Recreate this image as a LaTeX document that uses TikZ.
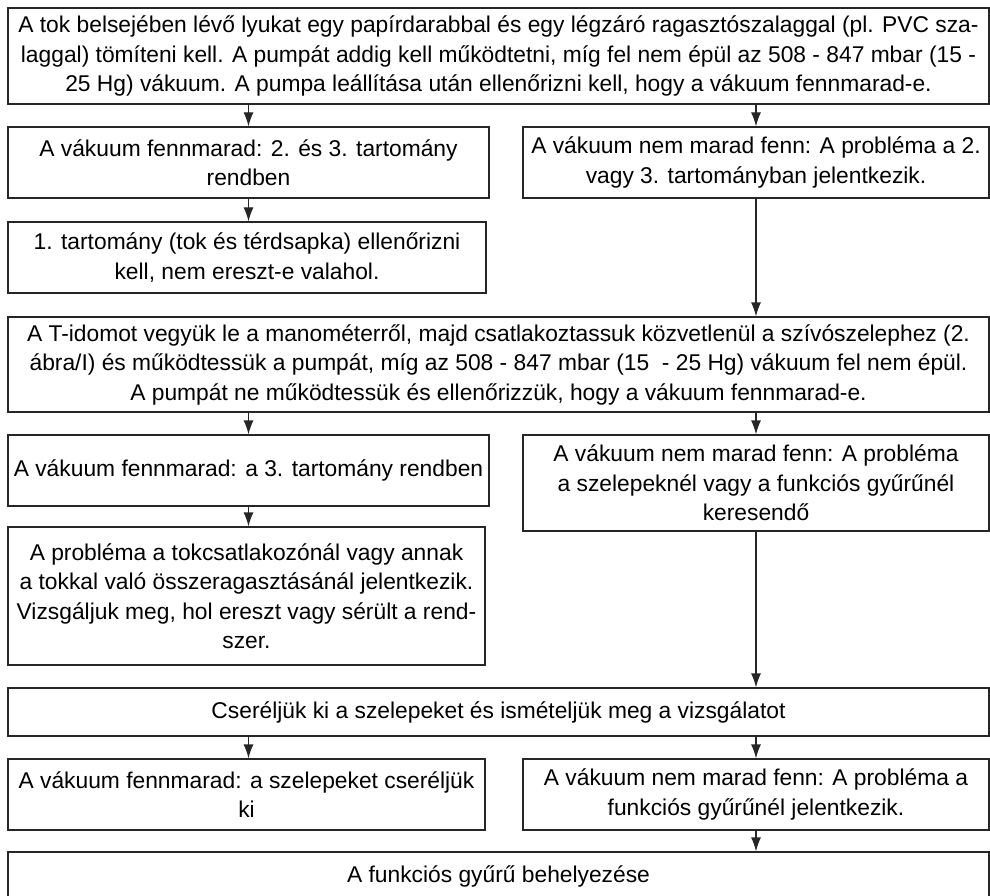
\documentclass[tikz,border=0pt]{standalone}
\usepackage{fontspec}
\setmainfont{Liberation Sans}
\usetikzlibrary{arrows.meta}
\tikzset{
  box/.style={draw=black!85, line width=1.2pt, rectangle, inner sep=0pt, align=center,
    font=\fontsize{22.8}{29.5}\selectfont, anchor=center},
  arr/.style={draw=black!85, line width=1.2pt, -{Latex[length=14pt,width=10pt]}},
}
\begin{document}
\begin{tikzpicture}[x=1pt,y=-1pt]
\useasboundingbox (0,0) rectangle (990,896);
% boxes: centre x, centre y, width, height
\node[box, minimum width=981pt, minimum height=96pt] (b1) at (498.5,56)
  {A tok belsejében lévő lyukat egy papírdarabbal és egy légzáró ragasztószalaggal (pl. PVC sza-\\
   laggal) tömíteni kell. A pumpát addig kell működtetni, míg fel nem épül az 508 - 847 mbar (15 -\\
   25 Hg) vákuum. A pumpa leállítása után ellenőrizni kell, hogy a vákuum fennmarad-e.};
\node[box, minimum width=481pt, minimum height=71pt] (b2) at (248.5,162.5)
  {A vákuum fennmarad: 2. és 3. tartomány\\ rendben};
\node[box, minimum width=466pt, minimum height=71pt] (b3) at (756,162.5)
  {A vákuum nem marad fenn: A probléma a 2.\\ vagy 3. tartományban jelentkezik.};
\node[box, minimum width=478pt, minimum height=71pt] (b4) at (247,257.5)
  {1. tartomány (tok és térdsapka) ellenőrizni\\ kell, nem ereszt-e valahol.};
\node[box, minimum width=981pt, minimum height=95pt] (b5) at (498.5,364.5)
  {A T-idomot vegyük le a manométerről, majd csatlakoztassuk közvetlenül a szívószelephez (2.\\
   ábra/I) és működtessük a pumpát, míg az 508 - 847 mbar (15\ \ - 25 Hg) vákuum fel nem épül.\\
   A pumpát ne működtessük és ellenőrizzük, hogy a vákuum fennmarad-e.};
\node[box, minimum width=481pt, minimum height=71pt] (b6) at (248.5,470.5)
  {A vákuum fennmarad: a 3. tartomány rendben};
\node[box, minimum width=466pt, minimum height=96pt] (b7) at (756,483)
  {A vákuum nem marad fenn: A probléma\\ a szelepeknél vagy a funkciós gyűrűnél\\ keresendő};
\node[box, minimum width=477pt, minimum height=138pt] (b8) at (246.5,596)
  {A probléma a tokcsatlakozónál vagy annak\\ a tokkal való összeragasztásánál jelentkezik.\\
   Vizsgáljuk meg, hol ereszt vagy sérült a rend-\\ szer.};
\node[box, minimum width=981pt, minimum height=48pt] (b9) at (498.5,712)
  {Cseréljük ki a szelepeket és ismételjük meg a vizsgálatot};
\node[box, minimum width=477pt, minimum height=71pt] (b10) at (246.5,794.5)
  {A vákuum fennmarad: a szelepeket cseréljük\\ ki};
\node[box, minimum width=466pt, minimum height=71pt] (b11) at (756,794.5)
  {A vákuum nem marad fenn: A probléma a\\ funkciós gyűrűnél jelentkezik.};
\node[box, minimum width=981pt, minimum height=48pt] (b12) at (498.5,876)
  {A funkciós gyűrű behelyezése};
% connectors
\draw[arr] (b1.south -| b2.north) -- (b2.north);
\draw[arr] (b1.south -| b3.north) -- (b3.north);
\draw[arr] (b2.south) -- (b4.north -| b2.south);
\draw[arr] (b3.south) -- (b5.north -| b3.south);
\draw[arr] (b5.south -| b6.north) -- (b6.north);
\draw[arr] (b5.south -| b7.north) -- (b7.north);
\draw[arr] (b6.south) -- (b8.north -| b6.south);
\draw[arr] (b7.south) -- (b9.north -| b7.south);
\draw[arr] (b9.south -| b6.north) -- (b10.north -| b6.north);
\draw[arr] (b9.south -| b11.north) -- (b11.north);
\draw[arr] (b11.south) -- (b12.north -| b11.south);
\end{tikzpicture}
\end{document}
